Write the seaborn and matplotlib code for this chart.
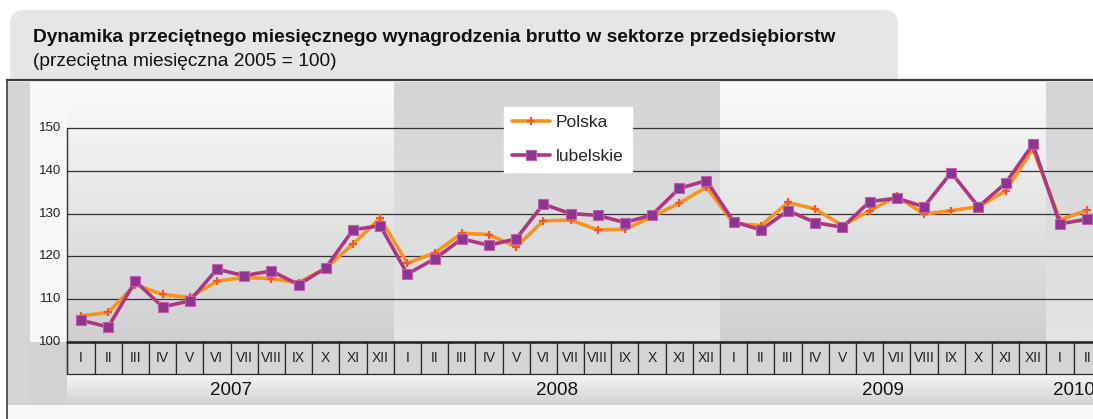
import numpy as np
import pandas as pd
import matplotlib
matplotlib.use("Agg")
import matplotlib.pyplot as plt
from matplotlib.patches import Rectangle, FancyBboxPatch
from matplotlib.colors import LinearSegmentedColormap
import seaborn as sns

# --- data ---
months = ["I", "II", "III", "IV", "V", "VI", "VII", "VIII", "IX", "X", "XI", "XII"] * 3 + ["I", "II"]
years = ["2007", "2008", "2009", "2010"]
polska = [106.1, 106.9, 113.4, 111.1, 110.4, 114.2, 115.1, 114.8, 113.9, 117.2, 122.9, 128.9,
          118.4, 120.8, 125.4, 125.1, 122.2, 128.3, 128.5, 126.2, 126.3, 129.3, 132.4, 136.2,
          127.7, 127.2, 132.6, 131.1, 127.2, 130.7, 134.0, 129.9, 130.7, 131.6, 135.3, 145.1,
          128.5, 130.8]
lubelskie = [105.1, 103.5, 114.2, 108.2, 109.6, 117.0, 115.5, 116.6, 113.4, 117.3, 126.2, 127.2,
             115.9, 119.4, 124.1, 122.6, 124.1, 132.2, 130.0, 129.6, 127.9, 129.7, 135.9, 137.7,
             128.1, 126.2, 130.7, 127.9, 126.8, 132.8, 133.6, 131.6, 139.6, 131.6, 137.1, 146.2,
             127.6, 128.7]
yticks = [100, 110, 120, 130, 140, 150]

df = pd.DataFrame({"slot": np.arange(len(months)), "Polska": polska, "lubelskie": lubelskie})

sns.set_theme(style="white")
plt.rcParams["font.family"] = ["Liberation Sans", "DejaVu Sans"]

W, H = 1093, 419
fig = plt.figure(figsize=(W / 100, H / 100), dpi=100)
fig.patch.set_facecolor("white")

# background layer in pixel units
bg = fig.add_axes([0, 0, 1, 1])
bg.set_xlim(0, W)
bg.set_ylim(H, 0)
bg.axis("off")
bg.add_patch(FancyBboxPatch((10, 10), 888, 100, boxstyle="round,pad=0,rounding_size=14",
                            fc="#e6e6e8", ec="none"))
bg.add_patch(Rectangle((7, 80), W - 7, H - 80, fc="#f8f8f8", ec="none"))
bg.add_patch(Rectangle((8, 82), 22, 323, fc="#d5d5d7", ec="none"))
bg.plot([7, W], [80, 80], color="#3c3c3c", lw=1.6)
bg.plot([7, 7], [80, H], color="#3c3c3c", lw=1.2)
bg.text(33, 38, "Dynamika przeciętnego miesięcznego wynagrodzenia brutto w sektorze przedsiębiorstw",
        fontsize=13.8, fontweight="bold", va="center", ha="left", color="#111111")
bg.text(33, 62, "(przeciętna miesięczna 2005 = 100)", fontsize=13.8, va="center", ha="left",
        color="#111111")

# main axes: pixel x 30..1093, y 82..405
px_per_slot = (1060 - 81) / 36
px_per_unit = (342 - 128) / 50
x0 = (30 - 81) / px_per_slot
x1 = (W - 81) / px_per_slot
y0 = 100 - (405 - 342) / px_per_unit
y1 = 100 + (342 - 82) / px_per_unit
ymid = 100 - (374 - 342) / px_per_unit

ax = fig.add_axes([30 / W, 1 - 405 / H, (W - 30) / W, (405 - 82) / H])
ax.set_xlim(x0, x1)
ax.set_ylim(y0, y1)
ax.axis("off")

light = LinearSegmentedColormap.from_list("light", ["#fbfbfb", "#cfcfd1"])
dark = LinearSegmentedColormap.from_list("dark", ["#d4d4d6", "#e4e4e6"])
grad = np.linspace(0, 1, 256).reshape(-1, 1)
for k, yr in enumerate(years):
    a = max(12 * k - 0.5, x0)
    b = min(12 * k + 11.5, x1)
    cm = light if k % 2 == 0 else dark
    ax.imshow(grad, cmap=cm, extent=(a, b, 100, y1), origin="upper", aspect="auto", zorder=0)
# lower-left filler and year row
ax.add_patch(Rectangle((x0, y0), -0.5 - x0, 100 - y0, fc="#d2d2d4", ec="none", zorder=0))
yrgrad = LinearSegmentedColormap.from_list("yr", ["#f6f6f6", "#d2d2d4"])
ax.imshow(grad, cmap=yrgrad, extent=(-0.5, x1, y0, ymid), origin="upper", aspect="auto", zorder=0)

# gridlines and y axis
for t in yticks[1:]:
    ax.plot([-0.5, x1], [t, t], color="#333333", lw=0.9, zorder=1)
    ax.text(-0.5 - 0.22, t, str(t), ha="right", va="center", fontsize=9.5, color="#222222")
ax.text(-0.5 - 0.22, 100, "100", ha="right", va="center", fontsize=9.5, color="#222222")
ax.plot([-0.5, -0.5], [ymid, 150], color="#333333", lw=1.0, zorder=3)

# month cells
for i, m in enumerate(months):
    ax.add_patch(Rectangle((i - 0.5, ymid), 1, 100 - ymid, fc="#d5d5d7", ec="#2a2a2a", lw=0.9, zorder=2))
    ax.text(i, (100 + ymid) / 2, m, ha="center", va="center", fontsize=10, color="#222222", zorder=3)
ax.plot([-0.5, x1], [100, 100], color="#222222", lw=1.8, zorder=3)
# year labels centred under the months shown for that year
for k, yr in enumerate(years):
    slots = df["slot"].iloc[12 * k:12 * k + 12]
    ax.text(slots.mean(), (ymid + y0) / 2 - 0.3, yr, ha="center", va="center", fontsize=13.5,
            color="#111111")

# series
sns.lineplot(data=df, x="slot", y="Polska", ax=ax, color="#f7941d", lw=2.6, marker="+",
             markersize=6, markeredgewidth=1.6, markeredgecolor="#f15a24", label="Polska", zorder=5)
sns.lineplot(data=df, x="slot", y="lubelskie", ax=ax, color="#ad3880", lw=2.6, marker="s",
             markersize=7, markerfacecolor="#8e3593", markeredgecolor="#c060a8", markeredgewidth=0.8,
             label="lubelskie", zorder=6)
ax.set_xlim(x0, x1)
ax.set_ylim(y0, y1)

leg = ax.legend(loc="upper left", bbox_to_anchor=(504 / W, 1 - 107 / H), bbox_transform=fig.transFigure,
                frameon=True, fancybox=False, fontsize=12.5, handlelength=2.2, labelspacing=1.1,
                borderpad=0.45, borderaxespad=0, handletextpad=0.35)
leg.get_frame().set_facecolor("white")
leg.get_frame().set_edgecolor("white")
leg.get_frame().set_alpha(1)
leg.set_zorder(10)

fig.savefig("out.png", dpi=100)
